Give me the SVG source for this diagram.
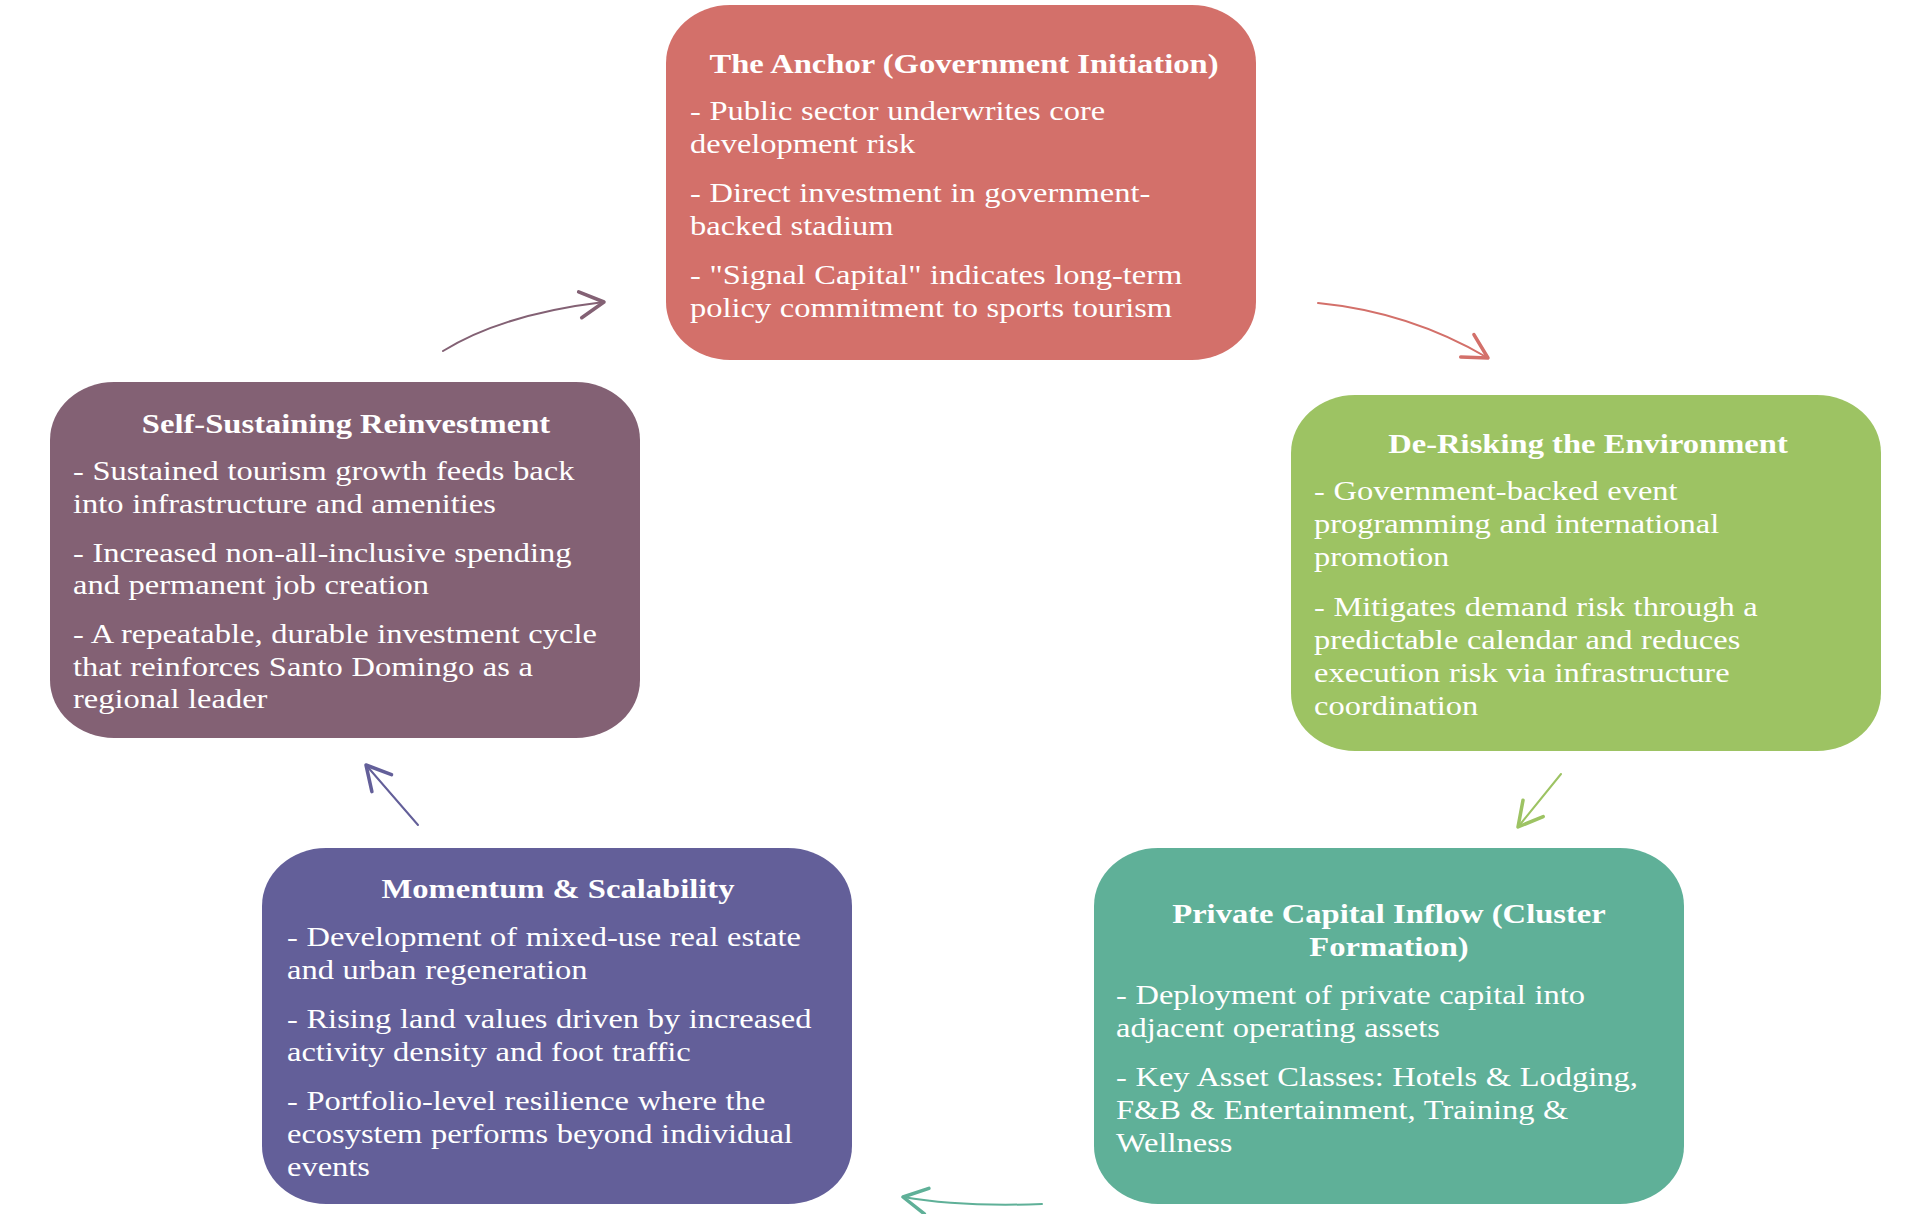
<svg xmlns="http://www.w3.org/2000/svg" width="1920" height="1214" viewBox="0 0 1920 1214">
<defs>
<style>
.box{stroke:none}
.t{font-family:"Liberation Serif","Times New Roman",serif;font-size:32.6px;font-weight:bold;fill:#ffffff;text-anchor:middle}
.b{font-family:"Liberation Serif","Times New Roman",serif;font-size:32.5px;fill:#ffffff;word-spacing:0.5px}
.c{fill:none;stroke-width:2;stroke-linecap:round}
</style>
<marker id="ah-mauve" markerUnits="userSpaceOnUse" viewBox="-30 -16 34 32" markerWidth="34" markerHeight="32" refX="0" refY="0" orient="auto"><path d="M-24,-13 L0,0 L-24,13" fill="none" stroke="#836174" stroke-width="3.5" stroke-linecap="round" stroke-linejoin="round"/></marker>
<marker id="ah-red" markerUnits="userSpaceOnUse" viewBox="-30 -16 34 32" markerWidth="34" markerHeight="32" refX="0" refY="0" orient="auto"><path d="M-24,-13 L0,0 L-24,13" fill="none" stroke="#D3706A" stroke-width="3.5" stroke-linecap="round" stroke-linejoin="round"/></marker>
<marker id="ah-green" markerUnits="userSpaceOnUse" viewBox="-30 -16 34 32" markerWidth="34" markerHeight="32" refX="0" refY="0" orient="auto"><path d="M-24,-13 L0,0 L-24,13" fill="none" stroke="#9DC363" stroke-width="3.5" stroke-linecap="round" stroke-linejoin="round"/></marker>
<marker id="ah-teal" markerUnits="userSpaceOnUse" viewBox="-30 -16 34 32" markerWidth="34" markerHeight="32" refX="0" refY="0" orient="auto"><path d="M-24,-13 L0,0 L-24,13" fill="none" stroke="#5FB098" stroke-width="3.5" stroke-linecap="round" stroke-linejoin="round"/></marker>
<marker id="ah-indigo" markerUnits="userSpaceOnUse" viewBox="-30 -16 34 32" markerWidth="34" markerHeight="32" refX="0" refY="0" orient="auto"><path d="M-24,-13 L0,0 L-24,13" fill="none" stroke="#635F99" stroke-width="3.5" stroke-linecap="round" stroke-linejoin="round"/></marker>
</defs>
<rect x="0" y="0" width="1920" height="1214" fill="#ffffff"/>

<g id="connectors">
<path class="c" stroke="#836174" d="M443,351 Q503,314 604,302" marker-end="url(#ah-mauve)"/>
<path class="c" stroke="#D3706A" d="M1318,303 Q1410,312 1488,358" marker-end="url(#ah-red)"/>
<path class="c" stroke="#9DC363" d="M1561,774 L1518,827" marker-end="url(#ah-green)"/>
<path class="c" stroke="#5FB098" d="M1042,1204 Q960,1207 903,1197" marker-end="url(#ah-teal)"/>
<path class="c" stroke="#635F99" d="M418,825 L366,765" marker-end="url(#ah-indigo)"/>
</g>

<g id="node-anchor">
<rect class="box" x="666" y="5" width="590" height="355" rx="64" ry="58" fill="#D3706A"/>
<text class="t" transform="translate(964,73) scale(1,0.865)">The Anchor (Government Initiation)</text>
<text class="b" transform="translate(690,120) scale(1,0.865)">- Public sector underwrites core</text>
<text class="b" transform="translate(690,153) scale(1,0.865)">development risk</text>
<text class="b" transform="translate(690,202) scale(1,0.865)">- Direct investment in government-</text>
<text class="b" transform="translate(690,235) scale(1,0.865)">backed stadium</text>
<text class="b" transform="translate(690,284) scale(1,0.865)">- "Signal Capital" indicates long-term</text>
<text class="b" transform="translate(690,317) scale(1,0.865)">policy commitment to sports tourism</text>
</g>

<g id="node-derisking">
<rect class="box" x="1291" y="395" width="590" height="356" rx="64" ry="58" fill="#9DC363"/>
<text class="t" transform="translate(1588,453) scale(1,0.865)">De-Risking the Environment</text>
<text class="b" transform="translate(1314,500) scale(1,0.865)">- Government-backed event</text>
<text class="b" transform="translate(1314,533) scale(1,0.865)">programming and international</text>
<text class="b" transform="translate(1314,566) scale(1,0.865)">promotion</text>
<text class="b" transform="translate(1314,616) scale(1,0.865)">- Mitigates demand risk through a</text>
<text class="b" transform="translate(1314,649) scale(1,0.865)">predictable calendar and reduces</text>
<text class="b" transform="translate(1314,682) scale(1,0.865)">execution risk via infrastructure</text>
<text class="b" transform="translate(1314,715) scale(1,0.865)">coordination</text>
</g>

<g id="node-private">
<rect class="box" x="1094" y="848" width="590" height="356" rx="64" ry="58" fill="#5FB098"/>
<text class="t" transform="translate(1389,923) scale(1,0.865)">Private Capital Inflow (Cluster</text>
<text class="t" transform="translate(1389,956) scale(1,0.865)">Formation)</text>
<text class="b" transform="translate(1116,1004) scale(1,0.865)">- Deployment of private capital into</text>
<text class="b" transform="translate(1116,1037) scale(1,0.865)">adjacent operating assets</text>
<text class="b" transform="translate(1116,1086) scale(1,0.865)">- Key Asset Classes: Hotels &amp; Lodging,</text>
<text class="b" transform="translate(1116,1119) scale(1,0.865)">F&amp;B &amp; Entertainment, Training &amp;</text>
<text class="b" transform="translate(1116,1152) scale(1,0.865)">Wellness</text>
</g>

<g id="node-momentum">
<rect class="box" x="262" y="848" width="590" height="356" rx="64" ry="58" fill="#635F99"/>
<text class="t" transform="translate(558,898) scale(1,0.865)">Momentum &amp; Scalability</text>
<text class="b" transform="translate(287,946) scale(1,0.865)">- Development of mixed-use real estate</text>
<text class="b" transform="translate(287,979) scale(1,0.865)">and urban regeneration</text>
<text class="b" transform="translate(287,1028) scale(1,0.865)">- Rising land values driven by increased</text>
<text class="b" transform="translate(287,1061) scale(1,0.865)">activity density and foot traffic</text>
<text class="b" transform="translate(287,1110) scale(1,0.865)">- Portfolio-level resilience where the</text>
<text class="b" transform="translate(287,1143) scale(1,0.865)">ecosystem performs beyond individual</text>
<text class="b" transform="translate(287,1176) scale(1,0.865)">events</text>
</g>

<g id="node-reinvestment">
<rect class="box" x="50" y="382" width="590" height="356" rx="64" ry="58" fill="#836174"/>
<text class="t" transform="translate(346,433) scale(1,0.865)">Self-Sustaining Reinvestment</text>
<text class="b" transform="translate(73,480) scale(1,0.865)">- Sustained tourism growth feeds back</text>
<text class="b" transform="translate(73,512.5) scale(1,0.865)">into infrastructure and amenities</text>
<text class="b" transform="translate(73,561.5) scale(1,0.865)">- Increased non-all-inclusive spending</text>
<text class="b" transform="translate(73,594) scale(1,0.865)">and permanent job creation</text>
<text class="b" transform="translate(73,643) scale(1,0.865)">- A repeatable, durable investment cycle</text>
<text class="b" transform="translate(73,675.5) scale(1,0.865)">that reinforces Santo Domingo as a</text>
<text class="b" transform="translate(73,708) scale(1,0.865)">regional leader</text>
</g>
</svg>
